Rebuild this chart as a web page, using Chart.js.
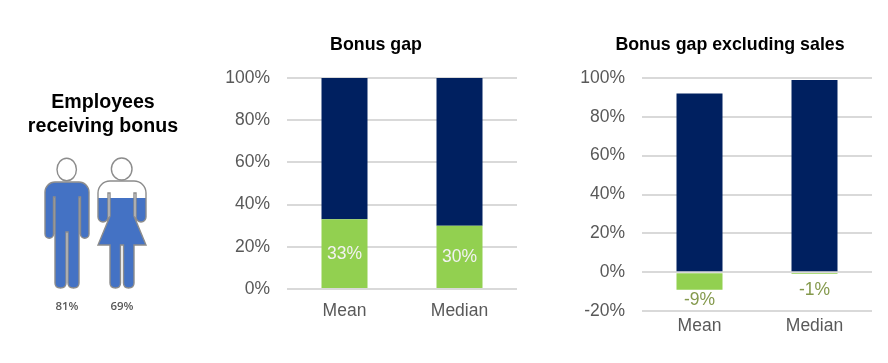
<!DOCTYPE html>
<html lang="en">
<head>
    <meta charset="UTF-8">
    <title>Bonus gap</title>
    <script src="https://cdn.jsdelivr.net/npm/chart.js"></script>
    <style>
        body {
            margin: 0;
            background: #fff;
            font-family: "Liberation Sans", Arial, sans-serif;
        }
        canvas {
            position: absolute;
        }
        #peopleChart { left: 0; top: 0; }
        #gapChart { left: 210px; top: 20px; }
        #gapExclChart { left: 560px; top: 20px; }
        .title {
            position: absolute;
            margin: 0;
            width: 300px;
            text-align: center;
            font-weight: bold;
            color: #000;
            font-size: 17.8px;
            line-height: 20px;
        }
        #peopleTitle { left: -47px; top: 89px; font-size: 19.6px; line-height: 24px; }
        #gapTitle { left: 226px; top: 34px; }
        #gapExclTitle { left: 580px; top: 34px; }
    </style>
</head>
<body>
<canvas id="peopleChart" width="200" height="340"></canvas>
<canvas id="gapChart" width="320" height="305"></canvas>
<canvas id="gapExclChart" width="328" height="327"></canvas>
<h2 class="title" id="peopleTitle">Employees<br>receiving bonus</h2>
<h2 class="title" id="gapTitle">Bonus gap</h2>
<h2 class="title" id="gapExclTitle">Bonus gap excluding sales</h2>

<script>
    const categories = ['Mean', 'Median'];

    const peopleGroups = ['Men', 'Women'];
    const peopleReceiving = [81, 69];

    const gapValues = [33, 30];
    const gapRest = [67, 70];

    const gapExclValues = [-9, -1];
    const gapExclRest = [92, 99];

    const FONT = '"Liberation Sans", Arial, sans-serif';
    const NAVY = '#002060';
    const GREEN = '#92D050';
    const GREY_TEXT = '#595959';
    const GRID = '#D9D9D9';

    Chart.defaults.font.family = FONT;
    Chart.defaults.animation = false;

    // Silhouettes, drawn from the feet upwards (0,0 = bottom centre)
    function manPath() {
        const p = new Path2D();
        p.moveTo(-22, -96);
        p.arcTo(-22, -106, -12, -106, 10);
        p.lineTo(12, -106);
        p.arcTo(22, -106, 22, -96, 10);
        p.lineTo(22, -54);
        p.arc(17.75, -54, 4.25, 0, Math.PI);
        p.lineTo(13.5, -91);
        p.lineTo(12, -91);
        p.lineTo(12, -5);
        p.quadraticCurveTo(12, 0, 6.5, 0);
        p.quadraticCurveTo(1, 0, 1, -5);
        p.lineTo(1, -56);
        p.lineTo(-1, -56);
        p.lineTo(-1, -5);
        p.quadraticCurveTo(-1, 0, -6.5, 0);
        p.quadraticCurveTo(-12, 0, -12, -5);
        p.lineTo(-12, -91);
        p.lineTo(-13.5, -91);
        p.lineTo(-13.5, -54);
        p.arc(-17.75, -54, 4.25, 0, Math.PI);
        p.closePath();
        return p;
    }

    function womanPath() {
        const p = new Path2D();
        p.moveTo(-24, -95);
        p.arcTo(-24, -107, -12, -107, 12);
        p.lineTo(12, -107);
        p.arcTo(24, -107, 24, -95, 12);
        p.lineTo(24, -71);
        p.arc(19, -71, 5, 0, Math.PI);
        p.lineTo(14, -95);
        p.lineTo(12, -95);
        p.lineTo(12, -72);
        p.lineTo(24, -43);
        p.lineTo(12, -43);
        p.lineTo(12, -5);
        p.quadraticCurveTo(12, 0, 6.5, 0);
        p.quadraticCurveTo(1.5, 0, 1.5, -5);
        p.lineTo(1.5, -43);
        p.lineTo(-1.5, -43);
        p.lineTo(-1.5, -5);
        p.quadraticCurveTo(-1.5, 0, -6.5, 0);
        p.quadraticCurveTo(-12, 0, -12, -5);
        p.lineTo(-12, -43);
        p.lineTo(-24, -43);
        p.lineTo(-12, -72);
        p.lineTo(-12, -95);
        p.lineTo(-14, -95);
        p.lineTo(-14, -71);
        p.arc(-19, -71, 5, 0, Math.PI);
        p.closePath();
        return p;
    }

    const figures = [
        { path: manPath(), head: [-0.3, -118.5, 9.7, 11.3] },
        { path: womanPath(), head: [-0.3, -119, 10.3, 11] }
    ];

    // The bars are the fill level, clipped to the shape of each person
    const peoplePlugin = {
        id: 'peopleShapes',
        beforeDatasetsDraw(chart) {
            const ctx = chart.ctx;
            const bottom = chart.chartArea.bottom;
            const clip = new Path2D();
            figures.forEach((f, i) => {
                clip.addPath(f.path, new DOMMatrix().translate(chart.scales.x.getPixelForValue(i), bottom));
            });
            ctx.save();
            ctx.clip(clip);
        },
        afterDatasetsDraw(chart) {
            const ctx = chart.ctx;
            const bottom = chart.chartArea.bottom;
            ctx.restore();
            figures.forEach((f, i) => {
                ctx.save();
                ctx.translate(chart.scales.x.getPixelForValue(i), bottom);
                ctx.strokeStyle = '#8C8C8C';
                ctx.lineWidth = 1.4;
                ctx.stroke(f.path);
                ctx.beginPath();
                ctx.ellipse(f.head[0], f.head[1], f.head[2], f.head[3], 0, 0, Math.PI * 2);
                ctx.stroke();
                ctx.restore();
            });
        }
    };

    new Chart(document.getElementById('peopleChart'), {
        type: 'bar',
        data: {
            labels: peopleGroups,
            datasets: [{
                data: peopleReceiving,
                backgroundColor: '#4472C4',
                barPercentage: 1,
                categoryPercentage: 1
            }]
        },
        options: {
            responsive: false,
            layout: { padding: { left: 39.5, right: 50.5, top: 158 } },
            plugins: {
                legend: { display: false },
                tooltip: { enabled: false }
            },
            scales: {
                x: {
                    grid: { display: false },
                    border: { display: false },
                    afterFit: s => { s.height = 52; },
                    ticks: {
                        padding: 4,
                        color: GREY_TEXT,
                        font: { family: '"Open Sans"', size: 11.5, weight: '600' },
                        callback: (v, i) => peopleReceiving[i] + '%'
                    }
                },
                y: { display: false, min: 0, max: 100 }
            }
        },
        plugins: [peoplePlugin]
    });

    function barLabels(color, place) {
        return {
            id: 'barLabels',
            afterDatasetsDraw(chart) {
                const ctx = chart.ctx;
                const meta = chart.getDatasetMeta(0);
                ctx.save();
                ctx.font = '17.5px ' + FONT;
                ctx.fillStyle = color;
                ctx.textAlign = 'center';
                ctx.textBaseline = 'middle';
                meta.data.forEach((bar, i) => {
                    ctx.fillText(chart.data.datasets[0].data[i] + '%', bar.x, place(bar, i));
                });
                ctx.restore();
            }
        };
    }

    function stackedGap(id, lower, upper, min, box, plugin) {
        return new Chart(document.getElementById(id), {
            type: 'bar',
            data: {
                labels: categories,
                datasets: [
                    { data: lower, backgroundColor: GREEN, barPercentage: 0.4, categoryPercentage: 1 },
                    { data: upper, backgroundColor: NAVY, barPercentage: 0.4, categoryPercentage: 1 }
                ]
            },
            options: {
                responsive: false,
                layout: { padding: { top: 58, right: box.right } },
                plugins: {
                    legend: { display: false },
                    tooltip: { enabled: false }
                },
                scales: {
                    x: {
                        stacked: true,
                        grid: { display: false },
                        border: { display: false },
                        afterFit: s => { s.height = 36; },
                        ticks: { color: GREY_TEXT, font: { size: 17.5 }, padding: box.labelGap }
                    },
                    y: {
                        stacked: true,
                        min: min,
                        max: 100,
                        afterFit: s => { s.width = box.axis; },
                        border: { display: false },
                        grid: { color: GRID, lineWidth: 2, drawTicks: false },
                        ticks: {
                            stepSize: 20,
                            color: GREY_TEXT,
                            font: { size: 17.5 },
                            padding: 17,
                            callback: v => v + '%'
                        }
                    }
                }
            },
            plugins: [plugin]
        });
    }

    stackedGap('gapChart', gapValues, gapRest, 0, { right: 13, axis: 77, labelGap: 4 },
        barLabels('#F2F2F2', bar => (bar.y + bar.base) / 2));

    const belowBar = [11, 16];
    stackedGap('gapExclChart', gapExclValues, gapExclRest, -20, { right: 16, axis: 82, labelGap: -3 },
        barLabels('#84994C', (bar, i) => bar.y + belowBar[i]));
</script>
</body>
</html>
